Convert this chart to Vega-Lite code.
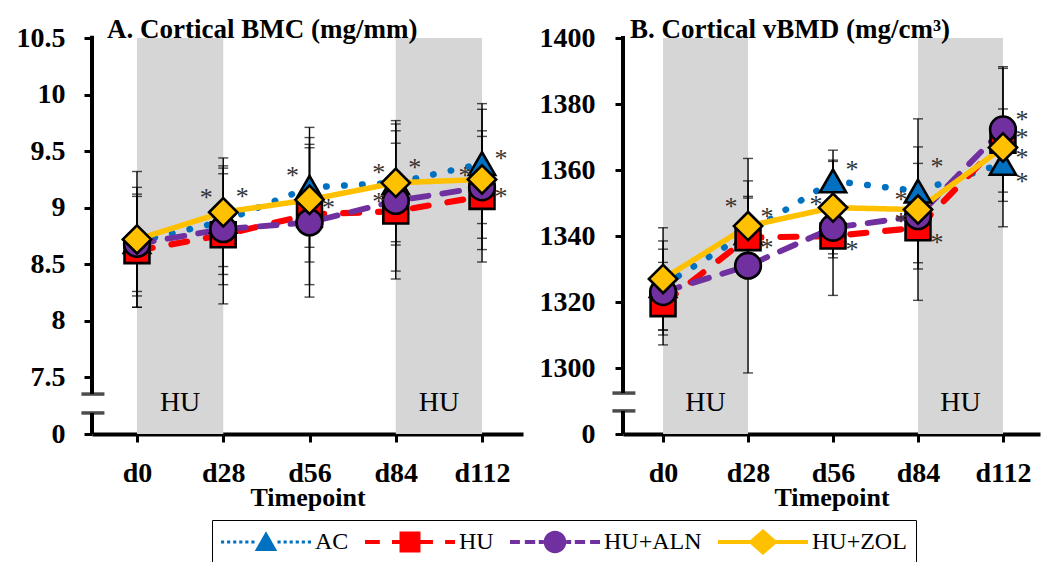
{
  "$schema": "https://vega.github.io/schema/vega-lite/v6.json",
  "background": "white",
  "padding": {"left": 16, "top": 16, "right": 2, "bottom": 2},
  "config": {
    "view": {"stroke": null},
    "font": "Liberation Serif",
    "legend": {"labelFont": "Liberation Serif", "labelFontSize": 24, "labelColor": "black", "labelFontWeight": "normal"},
    "axis": {
      "labelFont": "Liberation Serif", "labelFontWeight": "bold", "labelFontSize": 28, "labelColor": "black",
      "titleFont": "Liberation Serif", "titleFontWeight": "bold", "titleFontSize": 26, "titleColor": "black",
      "tickColor": "black", "tickSize": 8, "tickWidth": 3, "domainColor": "black", "domainWidth": 4,
      "grid": false, "labelFlush": false, "labelOverlap": false, "labelBound": false
    }
  },
  "datasets": {
    "series": [
      {"panel": "A", "group": "AC", "day": 0, "mean": 8.70, "lo": 8.22, "hi": 9.18},
      {"panel": "A", "group": "AC", "day": 28, "mean": 8.88, "lo": 8.41, "hi": 9.35},
      {"panel": "A", "group": "AC", "day": 56, "mean": 9.18, "lo": 8.65, "hi": 9.71},
      {"panel": "A", "group": "AC", "day": 84, "mean": 9.22, "lo": 8.70, "hi": 9.74},
      {"panel": "A", "group": "AC", "day": 112, "mean": 9.39, "lo": 8.86, "hi": 9.92},
      {"panel": "A", "group": "HU", "day": 0, "mean": 8.62, "lo": 8.12, "hi": 9.12},
      {"panel": "A", "group": "HU", "day": 28, "mean": 8.76, "lo": 8.15, "hi": 9.37},
      {"panel": "A", "group": "HU", "day": 56, "mean": 8.94, "lo": 8.32, "hi": 9.56},
      {"panel": "A", "group": "HU", "day": 84, "mean": 8.97, "lo": 8.37, "hi": 9.57},
      {"panel": "A", "group": "HU", "day": 112, "mean": 9.10, "lo": 8.52, "hi": 9.68},
      {"panel": "A", "group": "HU+ALN", "day": 0, "mean": 8.68, "lo": 8.26, "hi": 9.10},
      {"panel": "A", "group": "HU+ALN", "day": 28, "mean": 8.81, "lo": 8.32, "hi": 9.30},
      {"panel": "A", "group": "HU+ALN", "day": 56, "mean": 8.87, "lo": 8.21, "hi": 9.53},
      {"panel": "A", "group": "HU+ALN", "day": 84, "mean": 9.06, "lo": 8.44, "hi": 9.68},
      {"panel": "A", "group": "HU+ALN", "day": 112, "mean": 9.18, "lo": 8.73, "hi": 9.63},
      {"panel": "A", "group": "HU+ZOL", "day": 0, "mean": 8.72, "lo": 8.12, "hi": 9.32},
      {"panel": "A", "group": "HU+ZOL", "day": 28, "mean": 8.96, "lo": 8.48, "hi": 9.44},
      {"panel": "A", "group": "HU+ZOL", "day": 56, "mean": 9.07, "lo": 8.52, "hi": 9.62},
      {"panel": "A", "group": "HU+ZOL", "day": 84, "mean": 9.22, "lo": 8.67, "hi": 9.77},
      {"panel": "A", "group": "HU+ZOL", "day": 112, "mean": 9.25, "lo": 8.63, "hi": 9.87},
      {"panel": "B", "group": "AC", "day": 0, "mean": 1325, "lo": 1311.5, "hi": 1338.5},
      {"panel": "B", "group": "AC", "day": 28, "mean": 1341, "lo": 1330, "hi": 1352},
      {"panel": "B", "group": "AC", "day": 56, "mean": 1356.7, "lo": 1347.4, "hi": 1366},
      {"panel": "B", "group": "AC", "day": 84, "mean": 1353.6, "lo": 1340.2, "hi": 1367},
      {"panel": "B", "group": "AC", "day": 112, "mean": 1362, "lo": 1350.5, "hi": 1373.5},
      {"panel": "B", "group": "HU", "day": 0, "mean": 1319.5, "lo": 1307, "hi": 1332},
      {"panel": "B", "group": "HU", "day": 28, "mean": 1339.5, "lo": 1327.5, "hi": 1351.5},
      {"panel": "B", "group": "HU", "day": 56, "mean": 1340, "lo": 1333.4, "hi": 1346.6},
      {"panel": "B", "group": "HU", "day": 84, "mean": 1342.5, "lo": 1331.9, "hi": 1353.1},
      {"panel": "B", "group": "HU", "day": 112, "mean": 1369, "lo": 1359.5, "hi": 1378.5},
      {"panel": "B", "group": "HU+ALN", "day": 0, "mean": 1323, "lo": 1310, "hi": 1336},
      {"panel": "B", "group": "HU+ALN", "day": 28, "mean": 1331, "lo": 1298.5, "hi": 1363.5},
      {"panel": "B", "group": "HU+ALN", "day": 56, "mean": 1342.5, "lo": 1322, "hi": 1363},
      {"panel": "B", "group": "HU+ALN", "day": 84, "mean": 1346, "lo": 1330, "hi": 1362},
      {"panel": "B", "group": "HU+ALN", "day": 112, "mean": 1372.3, "lo": 1353.3, "hi": 1391.3},
      {"panel": "B", "group": "HU+ZOL", "day": 0, "mean": 1327, "lo": 1311.5, "hi": 1342.5},
      {"panel": "B", "group": "HU+ZOL", "day": 28, "mean": 1343, "lo": 1329.3, "hi": 1356.7},
      {"panel": "B", "group": "HU+ZOL", "day": 56, "mean": 1348.6, "lo": 1334.6, "hi": 1362.6},
      {"panel": "B", "group": "HU+ZOL", "day": 84, "mean": 1348, "lo": 1320.5, "hi": 1375.5},
      {"panel": "B", "group": "HU+ZOL", "day": 112, "mean": 1366.8, "lo": 1342.8, "hi": 1390.8}
    ],
    "stars": [
      {"panel": "A", "day": 28, "y": 9.12, "side": "L"},
      {"panel": "A", "day": 56, "y": 9.32, "side": "L"},
      {"panel": "A", "day": 84, "y": 9.34, "side": "L"},
      {"panel": "A", "day": 84, "y": 9.09, "side": "L"},
      {"panel": "A", "day": 112, "y": 9.32, "side": "L"},
      {"panel": "A", "day": 28, "y": 9.13, "side": "R"},
      {"panel": "A", "day": 56, "y": 9.03, "side": "R"},
      {"panel": "A", "day": 84, "y": 9.39, "side": "R"},
      {"panel": "A", "day": 112, "y": 9.47, "side": "R"},
      {"panel": "A", "day": 112, "y": 9.13, "side": "R"},
      {"panel": "B", "day": 28, "y": 1350.1, "side": "L"},
      {"panel": "B", "day": 56, "y": 1350.6, "side": "L"},
      {"panel": "B", "day": 84, "y": 1352.1, "side": "L"},
      {"panel": "B", "day": 84, "y": 1345.6, "side": "L"},
      {"panel": "B", "day": 28, "y": 1347.1, "side": "R"},
      {"panel": "B", "day": 28, "y": 1337.5, "side": "R"},
      {"panel": "B", "day": 56, "y": 1361.2, "side": "R"},
      {"panel": "B", "day": 56, "y": 1337.0, "side": "R"},
      {"panel": "B", "day": 84, "y": 1362.0, "side": "R"},
      {"panel": "B", "day": 84, "y": 1339.0, "side": "R"},
      {"panel": "B", "day": 112, "y": 1376.4, "side": "R"},
      {"panel": "B", "day": 112, "y": 1370.8, "side": "R"},
      {"panel": "B", "day": 112, "y": 1364.8, "side": "R"},
      {"panel": "B", "day": 112, "y": 1357.7, "side": "R"}
    ],
    "bands": [
      {"day": 0, "end": 28},
      {"day": 84, "end": 112}
    ],
    "hulabels": [
      {"day": 14, "label": "HU"},
      {"day": 98, "label": "HU"}
    ],
    "titles": [
      {"panel": "A", "label": "A. Cortical BMC (mg/mm)"},
      {"panel": "B", "label": "B. Cortical vBMD (mg/cm³)"}
    ]
  },
  "spacing": 16,
  "hconcat": [
    {
      "width": 431,
      "height": 396,
      "layer": [
        {"data": {"name": "bands"}, "mark": {"type": "rect", "color": "#d6d6d6"},
         "encoding": {"x": {"field": "day", "type": "quantitative", "title": "Timepoint", "scale": {"domain": [-14.6, 125.3], "nice": false, "zero": false},
                            "axis": {"values": [0, 28, 56, 84, 112], "labelExpr": "'d' + datum.value", "labelPadding": 17, "titlePadding": -3}},
                      "x2": {"field": "end"}}},
        {"data": {"name": "hulabels"}, "mark": {"type": "text", "font": "Liberation Serif", "fontSize": 28, "color": "black", "baseline": "middle"},
         "encoding": {"x": {"field": "day", "type": "quantitative", "title": "Timepoint"}, "y": {"datum": 7.274, "type": "quantitative"}, "text": {"field": "label"}}},
        {"data": {"name": "titles"}, "transform": [{"filter": "datum.panel === 'A'"}],
         "mark": {"type": "text", "font": "Liberation Serif", "fontSize": 27, "fontWeight": "bold", "color": "black", "align": "left", "baseline": "alphabetic"},
         "encoding": {"x": {"datum": -9.7, "type": "quantitative"}, "y": {"datum": 10.5, "type": "quantitative"}, "text": {"field": "label"}}},
        {"data": {"name": "titles"}, "transform": [{"filter": "datum.panel === 'A'"}],
         "mark": {"type": "rule", "color": "black", "strokeWidth": 4},
         "encoding": {"x": {"datum": -14.6, "type": "quantitative"}, "y": {"datum": 7.353, "type": "quantitative"}, "y2": {"datum": 10.52}}},
        {"data": {"name": "titles"}, "transform": [{"filter": "datum.panel === 'A'"}],
         "mark": {"type": "rule", "color": "black", "strokeWidth": 4},
         "encoding": {"x": {"datum": -14.6, "type": "quantitative"}, "y": {"datum": 7.0, "type": "quantitative"}, "y2": {"datum": 7.186}}},
        {"data": {"name": "titles"}, "transform": [{"filter": "datum.panel === 'A'"}],
         "mark": {"type": "tick", "orient": "horizontal", "size": 23, "thickness": 3.5, "color": "black"},
         "encoding": {"x": {"datum": -14.3, "type": "quantitative"}, "y": {"datum": 7.353, "type": "quantitative"}}},
        {"data": {"name": "titles"}, "transform": [{"filter": "datum.panel === 'A'"}],
         "mark": {"type": "tick", "orient": "horizontal", "size": 23, "thickness": 3.5, "color": "black"},
         "encoding": {"x": {"datum": -14.3, "type": "quantitative"}, "y": {"datum": 7.186, "type": "quantitative"}}},
        {"data": {"name": "series"}, "transform": [{"filter": "datum.panel === 'A'"}],
         "mark": {"type": "rule", "color": "black", "strokeWidth": 1.4},
         "encoding": {
           "x": {"field": "day", "type": "quantitative", "title": "Timepoint"},
           "y": {"field": "lo", "type": "quantitative", "scale": {"domain": [7, 10.5], "nice": false, "zero": false},
                 "axis": {"title": null, "domain": false, "values": [7, 7.5, 8, 8.5, 9, 9.5, 10, 10.5], "format": "~g", "labelExpr": "datum.value == 7 ? '0' : datum.label", "labelPadding": 19}},
           "y2": {"field": "hi"}}},
        {"data": {"name": "series"}, "transform": [{"filter": "datum.panel === 'A'"}],
         "mark": {"type": "tick", "orient": "horizontal", "size": 10, "thickness": 1.4, "color": "black"},
         "encoding": {"x": {"field": "day", "type": "quantitative", "title": "Timepoint"}, "y": {"field": "lo", "type": "quantitative", "axis": {"title": null}}}},
        {"data": {"name": "series"}, "transform": [{"filter": "datum.panel === 'A'"}],
         "mark": {"type": "tick", "orient": "horizontal", "size": 10, "thickness": 1.4, "color": "black"},
         "encoding": {"x": {"field": "day", "type": "quantitative", "title": "Timepoint"}, "y": {"field": "hi", "type": "quantitative", "axis": {"title": null}}}},
        {"data": {"name": "series"}, "transform": [{"filter": "datum.panel === 'A'"}],
         "mark": {"type": "line", "strokeCap": "round"},
         "encoding": {
           "x": {"field": "day", "type": "quantitative", "title": "Timepoint"},
           "y": {"field": "mean", "type": "quantitative", "axis": {"title": null}},
           "color": {"field": "group", "type": "nominal", "scale": {"domain": ["HU+ZOL", "HU+ALN", "HU", "AC"], "range": ["#FFC000", "#7030A0", "#FF0000", "#0070C0"]}, "legend": null},
           "strokeWidth": {"field": "group", "type": "nominal", "scale": {"domain": ["HU+ZOL", "HU+ALN", "HU", "AC"], "range": [5.5, 6.5, 6.5, 8]}, "legend": null},
           "strokeDash": {"field": "group", "type": "nominal", "scale": {"domain": ["HU+ZOL", "HU+ALN", "HU", "AC"], "range": [[1, 0], [17, 14], [16, 19], [0.5, 17.5]]}, "legend": null}}},
        {"data": {"name": "series"}, "transform": [{"filter": "datum.panel === 'A' && datum.group === 'AC'"}],
         "mark": {"type": "point", "shape": "triangle-up", "size": 690, "filled": true, "stroke": "black", "strokeWidth": 2.6, "opacity": 1},
         "encoding": {"x": {"field": "day", "type": "quantitative", "title": "Timepoint"}, "y": {"field": "mean", "type": "quantitative", "axis": {"title": null}},
           "fill": {"field": "group", "type": "nominal", "scale": {"domain": ["AC", "HU", "HU+ALN", "HU+ZOL"], "range": ["#0070C0", "#FF0000", "#7030A0", "#FFC000"]}}}},
        {"data": {"name": "series"}, "transform": [{"filter": "datum.panel === 'A' && datum.group === 'HU'"}],
         "mark": {"type": "point", "shape": "square", "size": 620, "filled": true, "stroke": "black", "strokeWidth": 2.6, "opacity": 1},
         "encoding": {"x": {"field": "day", "type": "quantitative", "title": "Timepoint"}, "y": {"field": "mean", "type": "quantitative", "axis": {"title": null}},
           "fill": {"field": "group", "type": "nominal", "scale": {"domain": ["AC", "HU", "HU+ALN", "HU+ZOL"], "range": ["#0070C0", "#FF0000", "#7030A0", "#FFC000"]}}}},
        {"data": {"name": "series"}, "transform": [{"filter": "datum.panel === 'A' && datum.group === 'HU+ALN'"}],
         "mark": {"type": "point", "shape": "circle", "size": 660, "filled": true, "stroke": "black", "strokeWidth": 2.6, "opacity": 1},
         "encoding": {"x": {"field": "day", "type": "quantitative", "title": "Timepoint"}, "y": {"field": "mean", "type": "quantitative", "axis": {"title": null}},
           "fill": {"field": "group", "type": "nominal", "scale": {"domain": ["AC", "HU", "HU+ALN", "HU+ZOL"], "range": ["#0070C0", "#FF0000", "#7030A0", "#FFC000"]}}}},
        {"data": {"name": "series"}, "transform": [{"filter": "datum.panel === 'A' && datum.group === 'HU+ZOL'"}],
         "mark": {"type": "point", "shape": "diamond", "size": 800, "filled": true, "stroke": "black", "strokeWidth": 2.6, "opacity": 1},
         "encoding": {"x": {"field": "day", "type": "quantitative", "title": "Timepoint"}, "y": {"field": "mean", "type": "quantitative", "axis": {"title": null}},
           "fill": {"field": "group", "type": "nominal", "scale": {"domain": ["AC", "HU", "HU+ALN", "HU+ZOL"], "range": ["#0070C0", "#FF0000", "#7030A0", "#FFC000"]}}}},
        {"data": {"name": "series"}, "transform": [{"filter": "false"}],
         "mark": {"type": "point", "filled": true, "opacity": 1},
         "encoding": {"x": {"field": "day", "type": "quantitative", "title": "Timepoint"}, "y": {"field": "mean", "type": "quantitative", "axis": {"title": null}},
           "fill": {"field": "group", "type": "nominal", "scale": {"domain": ["AC", "HU", "HU+ALN", "HU+ZOL"], "range": ["#0070C0", "#FF0000", "#7030A0", "#FFC000"]},
                    "legend": {"orient": "none", "legendX": 120, "legendY": 482, "direction": "horizontal", "columns": 4, "title": null,
                               "symbolSize": 8100, "symbolStrokeWidth": 0, "symbolOpacity": 1, "clipHeight": 26, "labelFont": "Liberation Serif", "labelFontSize": 24,
                               "labelFontWeight": "normal", "labelColor": "black", "labelOffset": 4, "columnPadding": 16, "padding": 9,
                               "strokeColor": "black", "fillColor": "white"}},
           "shape": {"field": "group", "type": "nominal", "scale": {"domain": ["AC", "HU", "HU+ALN", "HU+ZOL"], "range": [
             "M-1,-0.035h0.07v0.07h-0.07zM-0.865,-0.035h0.07v0.07h-0.07zM-0.73,-0.035h0.07v0.07h-0.07zM-0.595,-0.035h0.07v0.07h-0.07zM-0.46,-0.035h0.07v0.07h-0.07zM-0.325,-0.035h0.07v0.07h-0.07zM0.255,-0.035h0.07v0.07h-0.07zM0.39,-0.035h0.07v0.07h-0.07zM0.525,-0.035h0.07v0.07h-0.07zM0.66,-0.035h0.07v0.07h-0.07zM0.795,-0.035h0.07v0.07h-0.07zM0.93,-0.035h0.07v0.07h-0.07zM0,-0.24L0.25,0.2L-0.25,0.2Z",
             "M-1,-0.045H-0.67V0.045H-1ZM-0.4,-0.045H-0.2V0.045H-0.4ZM0.2,-0.045H0.51V0.045H0.2ZM0.78,-0.045H1V0.045H0.78ZM-0.233,-0.233H0.233V0.233H-0.233Z",
             "M-1,-0.045H-0.78V0.045H-1ZM-0.67,-0.045H-0.44V0.045H-0.67ZM-0.36,-0.045H-0.25V0.045H-0.36ZM0.25,-0.045H0.36V0.045H0.25ZM0.44,-0.045H0.67V0.045H0.44ZM0.78,-0.045H1V0.045H0.78ZM-0.25,0A0.25,0.25 0 1 1 0.25,0A0.25,0.25 0 1 1 -0.25,0Z",
             "M-1,-0.045H1V0.045H-1ZM0,-0.29L0.33,0L0,0.29L-0.33,0Z"]}}}},
        {"data": {"name": "stars"}, "transform": [{"filter": "datum.panel === 'A' && datum.side === 'L'"}],
         "mark": {"type": "text", "dx": -17, "dy": 12, "baseline": "alphabetic", "fontSize": 26, "color": "#333333", "font": "Liberation Serif"},
         "encoding": {"x": {"field": "day", "type": "quantitative", "title": "Timepoint"}, "y": {"field": "y", "type": "quantitative", "axis": {"title": null}}, "text": {"value": "*"}}},
        {"data": {"name": "stars"}, "transform": [{"filter": "datum.panel === 'A' && datum.side === 'R'"}],
         "mark": {"type": "text", "dx": 19, "dy": 12, "baseline": "alphabetic", "fontSize": 26, "color": "#333333", "font": "Liberation Serif"},
         "encoding": {"x": {"field": "day", "type": "quantitative", "title": "Timepoint"}, "y": {"field": "y", "type": "quantitative", "axis": {"title": null}}, "text": {"value": "*"}}}
      ]
    },
    {
      "width": 417,
      "height": 396,
      "layer": [
        {"data": {"name": "bands"}, "mark": {"type": "rect", "color": "#d6d6d6"},
         "encoding": {"x": {"field": "day", "type": "quantitative", "title": "Timepoint", "scale": {"domain": [-13.2, 124.2], "nice": false, "zero": false},
                            "axis": {"values": [0, 28, 56, 84, 112], "labelExpr": "'d' + datum.value", "labelPadding": 17, "titlePadding": -3}},
                      "x2": {"field": "end"}}},
        {"data": {"name": "hulabels"}, "mark": {"type": "text", "font": "Liberation Serif", "fontSize": 28, "color": "black", "baseline": "middle"},
         "encoding": {"x": {"field": "day", "type": "quantitative", "title": "Timepoint"}, "y": {"datum": 1289.4, "type": "quantitative"}, "text": {"field": "label"}}},
        {"data": {"name": "titles"}, "transform": [{"filter": "datum.panel === 'B'"}],
         "mark": {"type": "text", "font": "Liberation Serif", "fontSize": 27, "fontWeight": "bold", "color": "black", "align": "left", "baseline": "alphabetic"},
         "encoding": {"x": {"datum": -10.9, "type": "quantitative"}, "y": {"datum": 1400, "type": "quantitative"}, "text": {"field": "label"}}},
        {"data": {"name": "titles"}, "transform": [{"filter": "datum.panel === 'B'"}],
         "mark": {"type": "rule", "color": "black", "strokeWidth": 4},
         "encoding": {"x": {"datum": -13.2, "type": "quantitative"}, "y": {"datum": 1292.4, "type": "quantitative"}, "y2": {"datum": 1400.6}}},
        {"data": {"name": "titles"}, "transform": [{"filter": "datum.panel === 'B'"}],
         "mark": {"type": "rule", "color": "black", "strokeWidth": 4},
         "encoding": {"x": {"datum": -13.2, "type": "quantitative"}, "y": {"datum": 1280, "type": "quantitative"}, "y2": {"datum": 1287.0}}},
        {"data": {"name": "titles"}, "transform": [{"filter": "datum.panel === 'B'"}],
         "mark": {"type": "tick", "orient": "horizontal", "size": 23, "thickness": 3.5, "color": "black"},
         "encoding": {"x": {"datum": -12.9, "type": "quantitative"}, "y": {"datum": 1292.4, "type": "quantitative"}}},
        {"data": {"name": "titles"}, "transform": [{"filter": "datum.panel === 'B'"}],
         "mark": {"type": "tick", "orient": "horizontal", "size": 23, "thickness": 3.5, "color": "black"},
         "encoding": {"x": {"datum": -12.9, "type": "quantitative"}, "y": {"datum": 1287.0, "type": "quantitative"}}},
        {"data": {"name": "series"}, "transform": [{"filter": "datum.panel === 'B'"}],
         "mark": {"type": "rule", "color": "black", "strokeWidth": 1.4},
         "encoding": {
           "x": {"field": "day", "type": "quantitative", "title": "Timepoint"},
           "y": {"field": "lo", "type": "quantitative", "scale": {"domain": [1280, 1400], "nice": false, "zero": false},
                 "axis": {"title": null, "domain": false, "values": [1280, 1300, 1320, 1340, 1360, 1380, 1400], "format": "d", "labelExpr": "datum.value == 1280 ? '0' : datum.label", "labelPadding": 20}},
           "y2": {"field": "hi"}}},
        {"data": {"name": "series"}, "transform": [{"filter": "datum.panel === 'B'"}],
         "mark": {"type": "tick", "orient": "horizontal", "size": 10, "thickness": 1.4, "color": "black"},
         "encoding": {"x": {"field": "day", "type": "quantitative", "title": "Timepoint"}, "y": {"field": "lo", "type": "quantitative", "axis": {"title": null}}}},
        {"data": {"name": "series"}, "transform": [{"filter": "datum.panel === 'B'"}],
         "mark": {"type": "tick", "orient": "horizontal", "size": 10, "thickness": 1.4, "color": "black"},
         "encoding": {"x": {"field": "day", "type": "quantitative", "title": "Timepoint"}, "y": {"field": "hi", "type": "quantitative", "axis": {"title": null}}}},
        {"data": {"name": "series"}, "transform": [{"filter": "datum.panel === 'B'"}],
         "mark": {"type": "line", "strokeCap": "round"},
         "encoding": {
           "x": {"field": "day", "type": "quantitative", "title": "Timepoint"},
           "y": {"field": "mean", "type": "quantitative", "axis": {"title": null}},
           "color": {"field": "group", "type": "nominal", "scale": {"domain": ["HU+ZOL", "HU+ALN", "HU", "AC"], "range": ["#FFC000", "#7030A0", "#FF0000", "#0070C0"]}, "legend": null},
           "strokeWidth": {"field": "group", "type": "nominal", "scale": {"domain": ["HU+ZOL", "HU+ALN", "HU", "AC"], "range": [5.5, 6.5, 6.5, 8]}, "legend": null},
           "strokeDash": {"field": "group", "type": "nominal", "scale": {"domain": ["HU+ZOL", "HU+ALN", "HU", "AC"], "range": [[1, 0], [17, 14], [16, 19], [0.5, 17.5]]}, "legend": null}}},
        {"data": {"name": "series"}, "transform": [{"filter": "datum.panel === 'B' && datum.group === 'AC'"}],
         "mark": {"type": "point", "shape": "triangle-up", "size": 690, "filled": true, "stroke": "black", "strokeWidth": 2.6, "opacity": 1},
         "encoding": {"x": {"field": "day", "type": "quantitative", "title": "Timepoint"}, "y": {"field": "mean", "type": "quantitative", "axis": {"title": null}},
           "fill": {"field": "group", "type": "nominal", "scale": {"domain": ["AC", "HU", "HU+ALN", "HU+ZOL"], "range": ["#0070C0", "#FF0000", "#7030A0", "#FFC000"]}}}},
        {"data": {"name": "series"}, "transform": [{"filter": "datum.panel === 'B' && datum.group === 'HU'"}],
         "mark": {"type": "point", "shape": "square", "size": 620, "filled": true, "stroke": "black", "strokeWidth": 2.6, "opacity": 1},
         "encoding": {"x": {"field": "day", "type": "quantitative", "title": "Timepoint"}, "y": {"field": "mean", "type": "quantitative", "axis": {"title": null}},
           "fill": {"field": "group", "type": "nominal", "scale": {"domain": ["AC", "HU", "HU+ALN", "HU+ZOL"], "range": ["#0070C0", "#FF0000", "#7030A0", "#FFC000"]}}}},
        {"data": {"name": "series"}, "transform": [{"filter": "datum.panel === 'B' && datum.group === 'HU+ALN'"}],
         "mark": {"type": "point", "shape": "circle", "size": 660, "filled": true, "stroke": "black", "strokeWidth": 2.6, "opacity": 1},
         "encoding": {"x": {"field": "day", "type": "quantitative", "title": "Timepoint"}, "y": {"field": "mean", "type": "quantitative", "axis": {"title": null}},
           "fill": {"field": "group", "type": "nominal", "scale": {"domain": ["AC", "HU", "HU+ALN", "HU+ZOL"], "range": ["#0070C0", "#FF0000", "#7030A0", "#FFC000"]}}}},
        {"data": {"name": "series"}, "transform": [{"filter": "datum.panel === 'B' && datum.group === 'HU+ZOL'"}],
         "mark": {"type": "point", "shape": "diamond", "size": 800, "filled": true, "stroke": "black", "strokeWidth": 2.6, "opacity": 1},
         "encoding": {"x": {"field": "day", "type": "quantitative", "title": "Timepoint"}, "y": {"field": "mean", "type": "quantitative", "axis": {"title": null}},
           "fill": {"field": "group", "type": "nominal", "scale": {"domain": ["AC", "HU", "HU+ALN", "HU+ZOL"], "range": ["#0070C0", "#FF0000", "#7030A0", "#FFC000"]}}}},
        {"data": {"name": "stars"}, "transform": [{"filter": "datum.panel === 'B' && datum.side === 'L'"}],
         "mark": {"type": "text", "dx": -17, "dy": 12, "baseline": "alphabetic", "fontSize": 26, "color": "#333333", "font": "Liberation Serif"},
         "encoding": {"x": {"field": "day", "type": "quantitative", "title": "Timepoint"}, "y": {"field": "y", "type": "quantitative", "axis": {"title": null}}, "text": {"value": "*"}}},
        {"data": {"name": "stars"}, "transform": [{"filter": "datum.panel === 'B' && datum.side === 'R'"}],
         "mark": {"type": "text", "dx": 19, "dy": 12, "baseline": "alphabetic", "fontSize": 26, "color": "#333333", "font": "Liberation Serif"},
         "encoding": {"x": {"field": "day", "type": "quantitative", "title": "Timepoint"}, "y": {"field": "y", "type": "quantitative", "axis": {"title": null}}, "text": {"value": "*"}}}
      ]
    }
  ]
}
